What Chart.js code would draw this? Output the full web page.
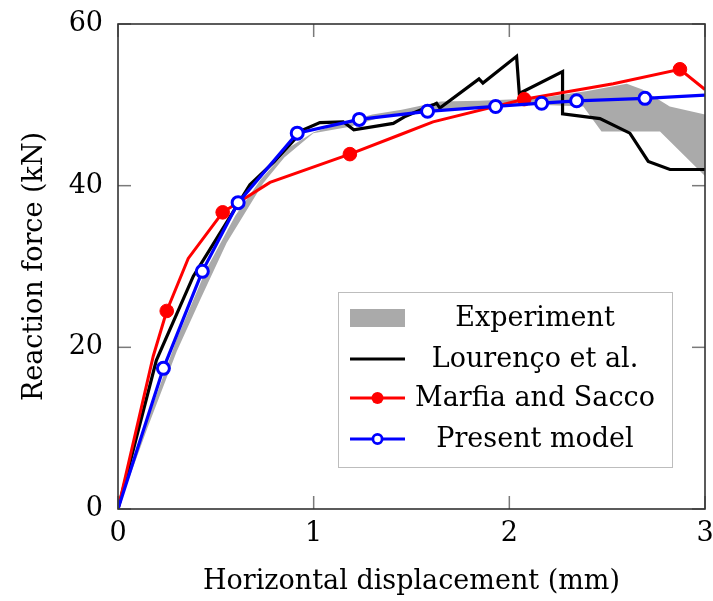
<!DOCTYPE html>
<html>
<head>
<meta charset="utf-8">
<script src="https://cdn.jsdelivr.net/npm/chart.js@4.4.1/dist/chart.umd.min.js"></script>
<style>
    html, body { margin: 0; padding: 0; background: #ffffff; }
    #wrap { width: 713px; height: 601px; }
</style>
</head>
<body>
<div id="wrap"><canvas id="chart"></canvas></div>
<script>
// Axis ticks
const xTicks = [0, 1, 2, 3];
const yTicks = [0, 20, 40, 60];

// Experiment envelope (upper and lower edge of the grey band)
const expUpperX = [0, 0.15, 0.3, 0.45, 0.6, 0.73, 0.88, 1.0, 1.15, 1.3, 1.45, 1.65, 1.85, 2.15, 2.4, 2.6, 2.68, 2.82, 3.0];
const expUpperY = [0, 11, 21, 29.6, 36.3, 40.8, 44.8, 46.6, 47.8, 48.8, 49.4, 50.4, 50.5, 50.8, 51.7, 52.6, 51.9, 49.8, 48.8];
const expLowerX = [0, 0.15, 0.3, 0.42, 0.555, 0.742, 0.85, 0.998, 1.185, 1.39, 1.56, 1.8, 2.15, 2.378, 2.471, 2.77, 3.0];
const expLowerY = [0, 10, 19.5, 25.9, 32.9, 40.3, 43.5, 46.5, 47.3, 48.8, 49.2, 49.6, 50.0, 49.8, 46.7, 46.7, 41.2];

// Lourenço et al.
const lourencoX = [0, 0.196, 0.385, 0.674, 0.8, 0.947, 1.032, 1.151, 1.205, 1.407, 1.47, 1.611, 1.628, 1.645, 1.845, 1.865, 2.037, 2.051, 2.272, 2.272, 2.463, 2.616, 2.71, 2.821, 3.0];
const lourencoY = [0, 18.4, 28.8, 40.1, 43.0, 46.9, 47.8, 47.9, 46.9, 47.7, 48.6, 50.0, 50.2, 49.6, 53.2, 52.7, 56.0, 51.4, 54.1, 48.9, 48.3, 46.5, 43.0, 42.0, 42.0];

// Marfia and Sacco (line vertices, then marker points)
const marfiaX = [0, 0.18, 0.249, 0.359, 0.535, 0.777, 1.185, 1.441, 1.61, 2.076, 2.531, 2.872, 3.0];
const marfiaY = [0, 18.9, 24.5, 31.0, 36.7, 40.4, 43.9, 46.3, 47.9, 50.7, 52.6, 54.4, 51.9];
const marfiaMarkX = [0.249, 0.535, 1.185, 2.076, 2.872];
const marfiaMarkY = [24.5, 36.7, 43.9, 50.7, 54.4];

// Present model
const presentX = [0, 0.232, 0.431, 0.614, 0.916, 1.233, 1.582, 1.930, 2.165, 2.344, 2.693, 3.0];
const presentY = [0, 17.4, 29.4, 37.9, 46.5, 48.2, 49.2, 49.8, 50.2, 50.5, 50.8, 51.2];

const legendLabels = ['Experiment', 'Lourenço et al.', 'Marfia and Sacco', 'Present model'];

const SERIF = '"DejaVu Serif", serif';
const GREY = '#aaaaaa';

const pts = (xs, ys) => xs.map((x, i) => ({ x: x, y: ys[i] }));

// Inward ticks on all four sides, frame and the boxed legend
const framePlugin = {
    id: 'frameAndLegend',
    afterDatasetsDraw(chart) {
        const { ctx, chartArea: a, scales } = chart;
        const sx = scales.x;
        const sy = scales.y;
        const line = (x1, y1, x2, y2) => {
            ctx.beginPath();
            ctx.moveTo(x1, y1);
            ctx.lineTo(x2, y2);
            ctx.stroke();
        };
        ctx.save();
        ctx.strokeStyle = '#7a7a7a';
        ctx.lineWidth = 1.5;
        const tl = 13;
        xTicks.forEach(v => {
            const px = sx.getPixelForValue(v);
            line(px, a.bottom, px, a.bottom - tl);
            line(px, a.top, px, a.top + tl);
        });
        yTicks.forEach(v => {
            const py = sy.getPixelForValue(v);
            line(a.left, py, a.left + tl, py);
            line(a.right, py, a.right - tl, py);
        });

        ctx.strokeStyle = '#333333';
        ctx.lineWidth = 1.6;
        ctx.strokeRect(a.left, a.top, a.right - a.left, a.bottom - a.top);

        // legend box
        const bx = a.left + 220;
        const by = a.top + 268;
        const bw = 334;
        const bh = 175;
        ctx.fillStyle = '#ffffff';
        ctx.fillRect(bx, by, bw, bh);
        ctx.strokeStyle = '#bdbdbd';
        ctx.lineWidth = 1;
        ctx.strokeRect(bx + 0.5, by + 0.5, bw, bh);

        const rows = [26, 67, 106, 147];
        const s0 = bx + 12;
        const s1 = bx + 67;
        const sm = (s0 + s1) / 2;
        ctx.font = '27px ' + SERIF;
        ctx.textAlign = 'center';
        ctx.textBaseline = 'middle';
        rows.forEach((ry, i) => {
            const yy = by + ry;
            if (i === 0) {
                ctx.fillStyle = GREY;
                ctx.fillRect(s0, yy - 9, s1 - s0, 18);
            } else {
                const col = i === 1 ? '#000000' : i === 2 ? '#ff0000' : '#0000ff';
                ctx.strokeStyle = col;
                ctx.lineWidth = 3;
                line(s0, yy, s1, yy);
                if (i === 2) {
                    ctx.fillStyle = col;
                    ctx.beginPath();
                    ctx.arc(sm, yy, 6, 0, Math.PI * 2);
                    ctx.fill();
                }
                if (i === 3) {
                    ctx.fillStyle = '#ffffff';
                    ctx.lineWidth = 2.8;
                    ctx.beginPath();
                    ctx.arc(sm, yy, 4.6, 0, Math.PI * 2);
                    ctx.fill();
                    ctx.stroke();
                }
            }
            ctx.fillStyle = '#000000';
            ctx.fillText(legendLabels[i], bx + 197, yy + 1);
        });
        ctx.restore();
    }
};

new Chart(document.getElementById('chart'), {
    type: 'line',
    data: {
        datasets: [
            {
                label: legendLabels[3],
                data: pts(presentX, presentY),
                borderColor: '#0000ff',
                borderWidth: 3.2,
                pointRadius: ctx => (ctx.dataIndex === 0 || ctx.dataIndex === presentX.length - 1) ? 0 : 6,
                pointBackgroundColor: '#ffffff',
                pointBorderColor: '#0000ff',
                pointBorderWidth: 3,
                fill: false
            },
            {
                label: legendLabels[2] + ' markers',
                data: pts(marfiaMarkX, marfiaMarkY),
                showLine: false,
                pointRadius: 6.8,
                pointBackgroundColor: '#ff0000',
                pointBorderColor: '#ff0000',
                pointBorderWidth: 1,
                fill: false
            },
            {
                label: legendLabels[2],
                data: pts(marfiaX, marfiaY),
                borderColor: '#ff0000',
                borderWidth: 3,
                pointRadius: 0,
                fill: false
            },
            {
                label: legendLabels[1],
                data: pts(lourencoX, lourencoY),
                borderColor: '#000000',
                borderWidth: 3.2,
                pointRadius: 0,
                fill: false
            },
            {
                label: legendLabels[0],
                data: pts(expUpperX, expUpperY),
                borderColor: 'transparent',
                borderWidth: 0,
                backgroundColor: GREY,
                pointRadius: 0,
                fill: '+1'
            },
            {
                label: legendLabels[0] + ' lower',
                data: pts(expLowerX, expLowerY),
                borderColor: 'transparent',
                borderWidth: 0,
                pointRadius: 0,
                fill: false
            }
        ]
    },
    options: {
        responsive: true,
        maintainAspectRatio: false,
        animation: false,
        layout: {
            padding: { top: 24, right: 8, left: 0, bottom: 0 }
        },
        plugins: {
            legend: { display: false },
            tooltip: { enabled: false },
            title: { display: false }
        },
        scales: {
            x: {
                type: 'linear',
                min: 0,
                max: 3,
                afterBuildTicks: s => { s.ticks = xTicks.map(v => ({ value: v })); },
                afterFit: s => {
                    s.height = 92;
                    // keep the plot frame where it is, labels may overhang
                    s.paddingLeft = 0;
                    s.paddingRight = 0;
                },
                ticks: {
                    color: '#000000',
                    padding: 9,
                    maxRotation: 0,
                    font: { family: SERIF, size: 27 }
                },
                grid: { display: false, drawTicks: false },
                border: { display: false },
                title: {
                    display: true,
                    text: 'Horizontal displacement (mm)',
                    color: '#000000',
                    padding: { top: 0, bottom: 3 },
                    font: { family: SERIF, size: 27 }
                }
            },
            y: {
                type: 'linear',
                min: 0,
                max: 60,
                afterBuildTicks: s => { s.ticks = yTicks.map(v => ({ value: v })); },
                afterFit: s => {
                    s.width = 118;
                    s.paddingTop = 0;
                    s.paddingBottom = 0;
                },
                ticks: {
                    color: '#000000',
                    padding: 15,
                    font: { family: SERIF, size: 27 }
                },
                grid: { display: false, drawTicks: false },
                border: { display: false },
                title: {
                    display: true,
                    text: 'Reaction force (kN)',
                    color: '#000000',
                    padding: { top: 19, bottom: 0 },
                    font: { family: SERIF, size: 27 }
                }
            }
        }
    },
    plugins: [framePlugin]
});
</script>
</body>
</html>
